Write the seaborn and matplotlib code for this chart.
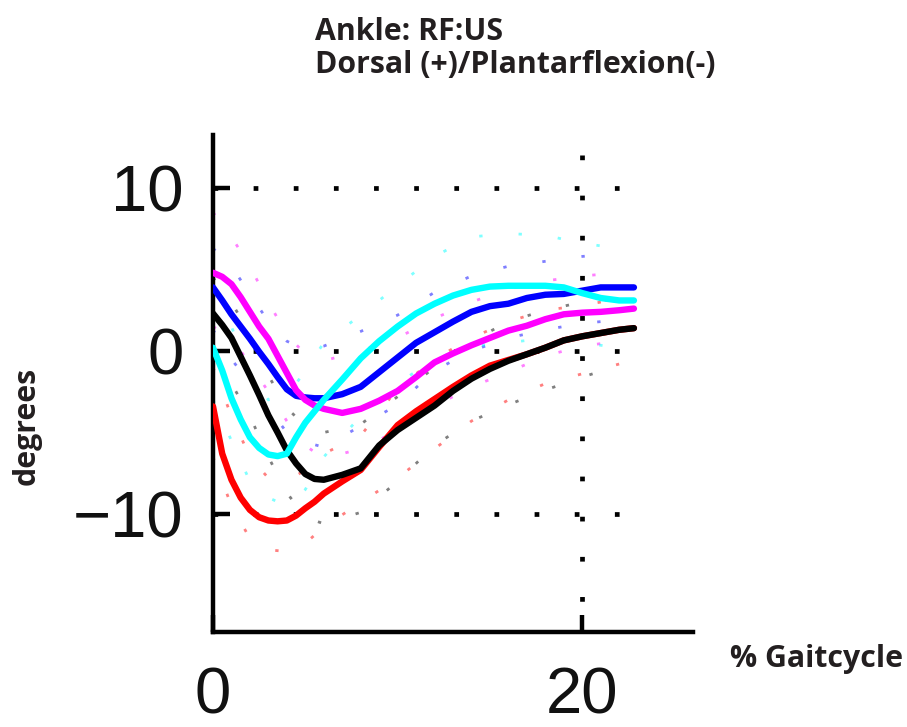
import matplotlib
matplotlib.use("Agg")
import matplotlib.pyplot as plt
import seaborn as sns
import pandas as pd

# ---- data -------------------------------------------------------------
x = [0, 0.5, 1, 1.5, 2, 2.5, 3, 3.5, 4, 4.5, 5, 5.5, 6, 7, 8, 9, 10,
     11, 12, 13, 14, 15, 16, 17, 18, 19, 20, 21, 22, 22.8]

red = [-3.4, -6.3, -7.9, -9.0, -9.75, -10.2, -10.4, -10.45, -10.4, -10.1,
       -9.65, -9.25, -8.75, -8.0, -7.3, -5.9, -4.55, -3.7, -2.95, -2.2,
       -1.5, -0.9, -0.55, -0.2, 0.2, 0.65, 0.9, 1.1, 1.3, 1.4]
black = [2.3, 1.6, 0.8, -0.35, -1.5, -2.7, -3.95, -5.0, -6.1, -6.9,
         -7.55, -7.85, -7.9, -7.6, -7.2, -5.8, -4.85, -4.1, -3.35, -2.45,
         -1.7, -1.1, -0.6, -0.2, 0.2, 0.65, 0.9, 1.1, 1.3, 1.4]
blue = [3.9, 3.1, 2.25, 1.5, 0.75, -0.05, -0.8, -1.6, -2.35, -2.75,
        -2.85, -2.9, -2.9, -2.65, -2.2, -1.3, -0.4, 0.5, 1.15, 1.8,
        2.4, 2.75, 2.9, 3.25, 3.45, 3.5, 3.7, 3.9, 3.9, 3.9]
magenta = [4.8, 4.55, 4.1, 3.3, 2.4, 1.5, 0.75, -0.3, -1.35, -2.4,
           -3.0, -3.35, -3.55, -3.8, -3.55, -3.05, -2.45, -1.6, -0.7, -0.15,
           0.35, 0.8, 1.25, 1.55, 1.95, 2.25, 2.35, 2.4, 2.5, 2.6]
cyan = [0.2, -1.2, -2.9, -4.2, -5.3, -5.95, -6.35, -6.45, -6.3, -5.3,
        -4.4, -3.7, -3.0, -1.75, -0.45, 0.6, 1.5, 2.3, 2.9, 3.4,
        3.75, 3.95, 4.0, 4.0, 4.0, 3.9, 3.55, 3.25, 3.1, 3.1]

# faint +/- SD bands
xb = [0, 1, 2, 3, 4, 5, 6, 8, 10, 12, 14, 16, 18, 20, 22]
blue_hi = [6.3, 5.2, 3.5, 1.8, 0.6, 0.1, 0.3, 1.2, 2.2, 3.6, 4.6, 5.2, 5.5, 5.8, 6.0]
blue_lo = [1.3, -0.5, -2.0, -3.5, -5.0, -5.6, -5.9, -4.6, -3.3, -1.2, 0.0, 0.8, 1.3, 1.7, 1.9]
magenta_hi = [8.5, 7.0, 5.2, 3.0, 1.0, -0.2, -0.6, 0.0, 0.8, 2.0, 3.0, 3.8, 4.3, 4.6, 4.8]
magenta_lo = [1.5, 0.8, -0.8, -2.5, -4.3, -5.8, -6.6, -6.0, -4.9, -3.4, -2.2, -1.3, -0.3, 0.3, 0.6]
cyan_hi = [3.5, 1.5, -1.5, -3.0, -2.8, -1.2, 0.5, 2.2, 4.0, 5.8, 7.0, 7.2, 7.1, 6.6, 6.3]
cyan_lo = [-3.0, -5.5, -8.0, -9.0, -9.5, -8.5, -6.5, -4.0, -2.0, -0.5, 0.3, 0.5, 0.8, 0.5, 0.2]
black_hi = [4.5, 3.0, 1.0, -1.5, -3.5, -4.6, -5.0, -4.5, -2.8, -1.0, 0.6, 1.8, 2.5, 3.0, 3.2]
black_lo = [-0.5, -2.0, -4.0, -6.5, -8.7, -10.2, -10.6, -9.9, -8.0, -5.8, -4.3, -3.3, -2.4, -1.6, -0.9]
red_hi = [-1.0, -4.0, -6.5, -7.8, -8.0, -7.3, -6.3, -5.2, -2.3, -0.5, 0.8, 1.8, 2.5, 2.8, 3.2]
red_lo = [-6.5, -9.5, -11.5, -12.2, -12.3, -11.8, -10.8, -9.3, -7.8, -6.0, -4.3, -3.0, -2.0, -1.4, -0.8]

series_names = ["red", "black", "blue", "magenta", "cyan"]
series_vals = [red, black, blue, magenta, cyan]
colors = {"red": "#ff0000", "black": "#000000", "blue": "#0000ff",
          "magenta": "#ff00ff", "cyan": "#00ffff"}
bands = {"red": (red_hi, red_lo), "black": (black_hi, black_lo),
         "blue": (blue_hi, blue_lo), "magenta": (magenta_hi, magenta_lo),
         "cyan": (cyan_hi, cyan_lo)}

xticks = [0, 20]
yticks = [-10, 0, 10]
ytick_labels = ["\u221210", "0", "10"]

# ---- figure -----------------------------------------------------------
sns.set_theme(style="white")
plt.rcParams["font.family"] = ["Liberation Sans", "DejaVu Sans"]

W, H = 907, 727
fig = plt.figure(figsize=(W / 100, H / 100), dpi=100)
ax = fig.add_axes([213 / W, (H - 632) / H, (693 - 213) / W, (632 - 135) / H])

# grid (dotted, MATLAB-like)
dot = dict(color="black", linewidth=3.4, dashes=(1, 7.5), solid_capstyle="butt",
           dash_capstyle="butt", zorder=1)
for yv in yticks:
    ax.plot([0, 22.5], [yv, yv], **dot)
ax.plot([20, 20], [12.0, -17.3], **dot)

# SD bands
for name in series_names:
    hi, lo = bands[name]
    for b in (hi, lo):
        ax.plot(xb, b, color=colors[name], linewidth=2.0, alpha=0.5,
                dashes=(1.2, 13), zorder=2)

df = pd.DataFrame({
    "x": x * len(series_names),
    "y": sum(series_vals, []),
    "series": sum([[n] * len(x) for n in series_names], []),
})
sns.lineplot(data=df, x="x", y="y", hue="series", hue_order=series_names,
             palette=colors, estimator=None, sort=False, linewidth=4.6,
             legend=False, ax=ax, zorder=3)

ax.set_xlim(0, 26.0)
ax.set_ylim(-17.24, 13.25)
ax.set_xticks(xticks)
ax.set_xticklabels([str(v) for v in xticks])
ax.set_yticks(yticks)
ax.set_yticklabels(ytick_labels)
ax.set_xlabel("")
ax.set_ylabel("")

for s in ["top", "right"]:
    ax.spines[s].set_visible(False)
for s in ["left", "bottom"]:
    ax.spines[s].set_color("black")
    ax.spines[s].set_linewidth(3.2)

ax.tick_params(axis="both", direction="in", length=12, width=3.2,
               colors="black", labelsize=47, labelcolor="#111111")
ax.tick_params(axis="x", pad=25)
ax.tick_params(axis="y", pad=21, left=True)
ax.tick_params(axis="x", bottom=True)

# titles / labels
tfont = dict(family=["Open Sans", "DejaVu Sans"], weight="bold", color="#231f20")
fs = 21.8
fig.text(315 / W, 1 - 40 / H, "Ankle: RF:US", fontsize=fs, ha="left",
         va="baseline", **tfont)
fig.text(315 / W, 1 - 73 / H, "Dorsal (+)/Plantarflexion(-)", fontsize=fs,
         ha="left", va="baseline", **tfont)
fig.text(27 / W, 1 - 426 / H, "degrees", fontsize=fs, rotation=90,
         ha="center", va="center", **tfont)
fig.text(730 / W, 1 - 667 / H, "% Gaitcycle", fontsize=fs, ha="left",
         va="baseline", **tfont)

fig.savefig("out.png", dpi=100, facecolor="white")
